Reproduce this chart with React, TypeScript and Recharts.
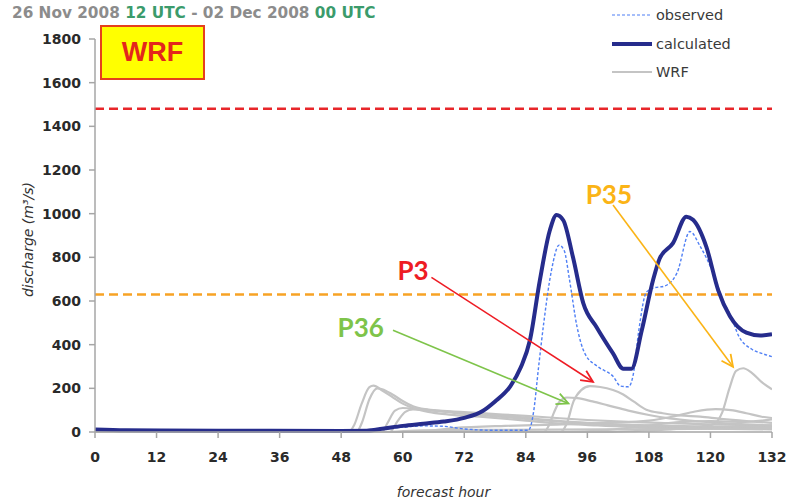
import React from "react";
import {
  LineChart,
  Line,
  XAxis,
  YAxis,
  ReferenceLine,
  ReferenceDot,
} from "recharts";

// ---- data (forecast hour h, discharge q in m3/s) ----
const hourTicks = [0, 12, 24, 36, 48, 60, 72, 84, 96, 108, 120, 132];
const dischargeTicks = [0, 200, 400, 600, 800, 1000, 1200, 1400, 1600, 1800];

// alert thresholds
const upperThreshold = 1480;
const lowerThreshold = 630;

const observed = [
  { h: 0, q: 8 }, { h: 24, q: 8 }, { h: 52, q: 8 }, { h: 56, q: 14 }, { h: 60, q: 22 },
  { h: 64, q: 28 }, { h: 68, q: 26 }, { h: 72, q: 14 }, { h: 78, q: 8 }, { h: 84.5, q: 8 },
  { h: 85.5, q: 90 }, { h: 86.5, q: 300 }, { h: 87.5, q: 500 }, { h: 89, q: 740 },
  { h: 90.5, q: 856 }, { h: 91.5, q: 830 }, { h: 92.5, q: 700 }, { h: 94, q: 480 },
  { h: 95.5, q: 360 }, { h: 98, q: 300 }, { h: 101, q: 255 }, { h: 102.5, q: 210 },
  { h: 104, q: 207 }, { h: 105, q: 270 }, { h: 106, q: 460 }, { h: 107.5, q: 640 },
  { h: 109, q: 660 }, { h: 111, q: 668 }, { h: 113.5, q: 730 }, { h: 116, q: 918 },
  { h: 118, q: 850 }, { h: 120.5, q: 730 }, { h: 122.5, q: 600 }, { h: 124, q: 530 },
  { h: 125.5, q: 440 }, { h: 128, q: 380 }, { h: 130, q: 360 }, { h: 132, q: 345 },
];

const calculated = [
  { h: 0, q: 12 }, { h: 6, q: 8 }, { h: 24, q: 6 }, { h: 48, q: 5 }, { h: 53, q: 6 },
  { h: 56, q: 15 }, { h: 60, q: 28 }, { h: 64, q: 38 }, { h: 68, q: 48 }, { h: 72, q: 65 },
  { h: 75.5, q: 95 }, { h: 78, q: 140 }, { h: 81, q: 210 }, { h: 83, q: 295 },
  { h: 84.8, q: 420 }, { h: 86.7, q: 690 }, { h: 88.7, q: 925 }, { h: 90, q: 994 },
  { h: 91.3, q: 970 }, { h: 93.2, q: 800 }, { h: 95.2, q: 590 }, { h: 97.8, q: 480 },
  { h: 101, q: 360 }, { h: 103, q: 290 }, { h: 104.6, q: 290 }, { h: 106.6, q: 465 },
  { h: 108.8, q: 695 }, { h: 110.1, q: 795 }, { h: 112.7, q: 865 }, { h: 115.3, q: 986 },
  { h: 116.6, q: 972 }, { h: 119.2, q: 848 }, { h: 121.5, q: 650 }, { h: 123.8, q: 530 },
  { h: 127, q: 455 }, { h: 129.7, q: 442 }, { h: 132, q: 448 },
];

// WRF-driven ensemble members
const wrfA = [
  { h: 0, q: 0 }, { h: 49.5, q: 0 }, { h: 50.5, q: 30 }, { h: 52, q: 130 }, { h: 53.5, q: 205 },
  { h: 54.3, q: 212 }, { h: 56, q: 190 }, { h: 58, q: 160 }, { h: 60, q: 130 }, { h: 62, q: 110 },
  { h: 65, q: 92 }, { h: 69, q: 80 }, { h: 75, q: 70 }, { h: 84, q: 52 }, { h: 90, q: 40 },
  { h: 98, q: 30 }, { h: 108, q: 20 }, { h: 120, q: 15 }, { h: 132, q: 12 },
];
const wrfB = [
  { h: 0, q: 0 }, { h: 51, q: 0 }, { h: 52, q: 40 }, { h: 53.5, q: 150 }, { h: 55, q: 200 },
  { h: 56, q: 196 }, { h: 58, q: 172 }, { h: 60, q: 142 }, { h: 62, q: 118 }, { h: 65, q: 102 },
  { h: 70, q: 88 }, { h: 76, q: 76 }, { h: 84, q: 60 }, { h: 92, q: 45 }, { h: 100, q: 35 },
  { h: 110, q: 25 }, { h: 120, q: 20 }, { h: 132, q: 18 },
];
const wrfC = [
  { h: 0, q: 0 }, { h: 56, q: 0 }, { h: 57, q: 40 }, { h: 58.5, q: 98 }, { h: 60, q: 110 },
  { h: 63, q: 106 }, { h: 66, q: 100 }, { h: 70, q: 94 }, { h: 76, q: 85 }, { h: 84, q: 74 },
  { h: 90, q: 64 }, { h: 96, q: 55 }, { h: 104, q: 46 }, { h: 112, q: 40 }, { h: 120, q: 35 },
  { h: 132, q: 30 },
];
const wrfD = [
  { h: 0, q: 0 }, { h: 57.5, q: 0 }, { h: 59, q: 50 }, { h: 60.5, q: 92 }, { h: 62, q: 104 },
  { h: 65, q: 100 }, { h: 70, q: 90 }, { h: 76, q: 80 }, { h: 82, q: 70 }, { h: 88, q: 56 },
  { h: 96, q: 42 }, { h: 108, q: 30 }, { h: 120, q: 25 }, { h: 132, q: 22 },
];
const wrfP36 = [
  { h: 0, q: 0 }, { h: 87.5, q: 0 }, { h: 88.5, q: 30 }, { h: 89.5, q: 90 }, { h: 90.6, q: 140 },
  { h: 92, q: 158 }, { h: 94, q: 155 }, { h: 97, q: 140 }, { h: 100, q: 122 }, { h: 104, q: 98 },
  { h: 108, q: 78 }, { h: 112, q: 62 }, { h: 118, q: 48 }, { h: 124, q: 38 }, { h: 132, q: 30 },
];
const wrfP3 = [
  { h: 0, q: 0 }, { h: 90.8, q: 0 }, { h: 92, q: 40 }, { h: 93.3, q: 140 }, { h: 94.8, q: 192 },
  { h: 96.5, q: 210 }, { h: 98.5, q: 206 }, { h: 101, q: 192 }, { h: 103, q: 172 },
  { h: 105, q: 140 }, { h: 107.5, q: 102 }, { h: 110.7, q: 86 }, { h: 114, q: 76 },
  { h: 118, q: 70 }, { h: 122, q: 60 }, { h: 127, q: 50 }, { h: 132, q: 42 },
];
const wrfP35 = [
  { h: 0, q: 0 }, { h: 100, q: 0 }, { h: 106, q: 5 }, { h: 112, q: 12 }, { h: 117, q: 22 },
  { h: 120.5, q: 35 }, { h: 122.3, q: 90 }, { h: 123.7, q: 200 }, { h: 125, q: 280 },
  { h: 126.4, q: 292 }, { h: 128, q: 272 }, { h: 130, q: 228 }, { h: 132, q: 195 },
];
const wrfE = [
  { h: 0, q: 0 }, { h: 62, q: 0 }, { h: 70, q: 18 }, { h: 80, q: 28 }, { h: 90, q: 34 },
  { h: 100, q: 42 }, { h: 108, q: 52 }, { h: 113, q: 72 }, { h: 117, q: 94 }, { h: 121, q: 105 },
  { h: 124, q: 100 }, { h: 127, q: 86 }, { h: 130, q: 70 }, { h: 132, q: 64 },
];
const wrfF = [
  { h: 0, q: 0 }, { h: 92, q: 0 }, { h: 100, q: 10 }, { h: 108, q: 30 }, { h: 114, q: 45 },
  { h: 120, q: 50 }, { h: 126, q: 46 }, { h: 130, q: 52 }, { h: 132, q: 58 },
];
const wrfG = [
  { h: 0, q: 0 }, { h: 56, q: 0 }, { h: 64, q: 8 }, { h: 80, q: 10 }, { h: 100, q: 12 },
  { h: 116, q: 14 }, { h: 132, q: 16 },
];

const wrfMembers = [wrfA, wrfB, wrfC, wrfD, wrfP36, wrfP3, wrfP35, wrfE, wrfF, wrfG];

// annotation labels pointing at particular members (data coordinates)
const annotations = [
  { name: "P3", color: "#ee1c24", text: { h: 62.0, q: 742 }, from: { h: 65.6, q: 708 }, to: { h: 97.1, q: 230 } },
  { name: "P36", color: "#7ec44a", text: { h: 51.8, q: 479 }, from: { h: 58.1, q: 466 }, to: { h: 92.3, q: 131 } },
  { name: "P35", color: "#fbb416", text: { h: 100.2, q: 1090 }, from: { h: 101, q: 1040 }, to: { h: 124.4, q: 299 } },
];

const legendRows = [
  { label: "observed", color: "#4f7ff5", width: 1.2, dash: "3 2" },
  { label: "calculated", color: "#262c8c", width: 4, dash: undefined },
  { label: "WRF", color: "#c4c4c4", width: 2, dash: undefined },
];

const GREY = "#c4c4c4";
const NAVY = "#262c8c";
const LIGHT_BLUE = "#4f7ff5";
const AXIS = "#a6a6a6";
const FONT = "'DejaVu Sans', Verdana, sans-serif";

const arrowShape = (color: string) => (props: any) => {
  const { x1, y1, x2, y2 } = props;
  const ang = Math.atan2(y2 - y1, x2 - x1);
  const len = 13;
  const spread = 0.45;
  const ax = x2 - len * Math.cos(ang - spread);
  const ay = y2 - len * Math.sin(ang - spread);
  const bx = x2 - len * Math.cos(ang + spread);
  const by = y2 - len * Math.sin(ang + spread);
  return (
    <g>
      <line x1={x1} y1={y1} x2={x2} y2={y2} stroke={color} strokeWidth={1.6} />
      <polyline
        points={`${ax},${ay} ${x2},${y2} ${bx},${by}`}
        fill="none"
        stroke={color}
        strokeWidth={1.8}
      />
    </g>
  );
};

const labelShape = (text: string, color: string) => (props: any) => (
  <text
    x={props.cx}
    y={props.cy}
    textAnchor="middle"
    dominantBaseline="central"
    fill={color}
    fontFamily="Lato, 'Open Sans', sans-serif"
    fontWeight={700}
    fontSize={26}
  >
    {text}
  </text>
);

const LegendBox = () => (
  <div
    style={{
      position: "absolute",
      left: 612,
      top: 1,
      fontFamily: FONT,
      fontSize: 14.5,
      color: "#3a3a3a",
    }}
  >
    {legendRows.map((r) => (
      <div key={r.label} style={{ display: "flex", alignItems: "center", height: 28.5 }}>
        <svg width={42} height={10}>
          <line x1={0} y1={5} x2={40} y2={5} stroke={r.color} strokeWidth={r.width} strokeDasharray={r.dash} />
        </svg>
        <span style={{ marginLeft: 2 }}>{r.label}</span>
      </div>
    ))}
  </div>
);

export default function App() {
  return (
    <div style={{ position: "absolute", left: 0, top: 0, width: 790, height: 502, background: "#fff" }}>
      <LineChart width={790} height={502} margin={{ top: 39, right: 18, bottom: 0, left: 0 }}>
        <XAxis
          dataKey="h"
          type="number"
          domain={[0, 132]}
          ticks={hourTicks}
          allowDataOverflow
          height={70}
          stroke={AXIS}
          strokeWidth={1.5}
          tickSize={6}
          tickMargin={14}
          tick={{ fill: "#2a2a2a", fontSize: 14, fontWeight: 700, fontFamily: FONT }}
          label={{
            value: "forecast hour",
            position: "insideBottom",
            offset: 5,
            dx: 10,
            fill: "#333",
            fontSize: 14,
            fontStyle: "italic",
            fontFamily: FONT,
          }}
        />
        <YAxis
          type="number"
          domain={[0, 1800]}
          ticks={dischargeTicks}
          width={95}
          stroke={AXIS}
          strokeWidth={1.5}
          tickSize={6}
          tickMargin={8}
          tick={{ fill: "#2a2a2a", fontSize: 14, fontWeight: 700, fontFamily: FONT }}
          label={{
            value: "discharge (m³/s)",
            angle: -90,
            position: "insideLeft",
            offset: 28,
            dy: 4,
            fill: "#333",
            fontSize: 14,
            fontStyle: "italic",
            fontFamily: FONT,
            style: { textAnchor: "middle" },
          }}
        />

        <ReferenceLine y={upperThreshold} stroke="#e8262a" strokeWidth={2.5} strokeDasharray="9 5" />
        <ReferenceLine y={lowerThreshold} stroke="#f7a325" strokeWidth={2.5} strokeDasharray="9 5" />

        {wrfMembers.map((m, i) => (
          <Line
            key={`wrf-${i}`}
            data={m}
            dataKey="q"
            type="monotone"
            stroke={GREY}
            strokeWidth={2.2}
            dot={false}
            activeDot={false}
            isAnimationActive={false}
          />
        ))}
        <Line
          data={observed}
          dataKey="q"
          name="observed"
          type="monotone"
          stroke={LIGHT_BLUE}
          strokeWidth={1.4}
          strokeDasharray="3 2"
          dot={false}
          activeDot={false}
          isAnimationActive={false}
        />
        <Line
          data={calculated}
          dataKey="q"
          name="calculated"
          type="monotone"
          stroke={NAVY}
          strokeWidth={4}
          dot={false}
          activeDot={false}
          isAnimationActive={false}
        />

        {annotations.map((a) => (
          <ReferenceLine
            key={`arrow-${a.name}`}
            segment={[
              { x: a.from.h, y: a.from.q },
              { x: a.to.h, y: a.to.q },
            ]}
            shape={arrowShape(a.color)}
          />
        ))}
        {annotations.map((a) => (
          <ReferenceDot
            key={`label-${a.name}`}
            x={a.text.h}
            y={a.text.q}
            r={0}
            shape={labelShape(a.name, a.color)}
          />
        ))}
      </LineChart>

      <div
        style={{
          position: "absolute",
          left: 12,
          top: 4,
          fontFamily: FONT,
          fontSize: 15.3,
          fontWeight: 700,
          color: "#8c8c8c",
          whiteSpace: "pre",
        }}
      >
        {"26 Nov 2008 "}
        <span style={{ color: "#3b9b6b" }}>12 UTC</span>
        {" - 02 Dec 2008 "}
        <span style={{ color: "#3b9b6b" }}>00 UTC</span>
      </div>

      <LegendBox />

      <div
        style={{
          position: "absolute",
          left: 100,
          top: 25,
          width: 101,
          height: 51,
          background: "#ffff00",
          border: "2px solid #e5401c",
          display: "flex",
          alignItems: "center",
          justifyContent: "center",
          fontFamily: "'Liberation Sans', Arial, sans-serif",
          fontWeight: 700,
          fontSize: 27,
          color: "#e3261c",
        }}
      >
        WRF
      </div>
    </div>
  );
}
